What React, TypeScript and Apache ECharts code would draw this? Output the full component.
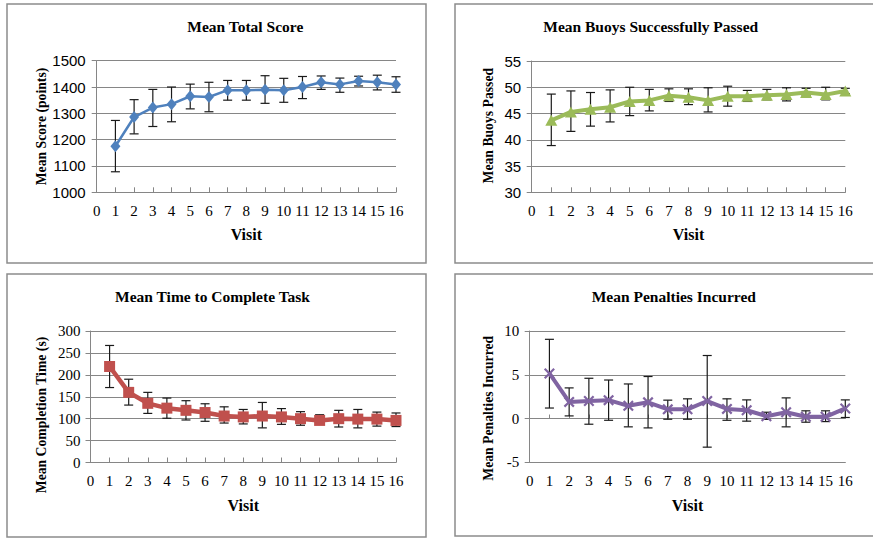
import React, { useEffect, useRef } from "react";
import * as echarts from "echarts";

const visits = [1, 2, 3, 4, 5, 6, 7, 8, 9, 10, 11, 12, 13, 14, 15, 16];

const scoreMean = [1175, 1286, 1322, 1335, 1365, 1362, 1388, 1388, 1390, 1388, 1400, 1418, 1410, 1423, 1418, 1410];
const scoreHigh = [1273, 1352, 1391, 1400, 1411, 1418, 1425, 1425, 1443, 1433, 1440, 1442, 1434, 1441, 1445, 1439];
const scoreLow = [1078, 1222, 1250, 1268, 1317, 1306, 1350, 1350, 1338, 1342, 1356, 1391, 1380, 1404, 1389, 1380];

const buoyMean = [43.7, 45.3, 45.8, 46.2, 47.3, 47.5, 48.4, 48.1, 47.5, 48.3, 48.3, 48.5, 48.6, 49.0, 48.6, 49.3];
const buoyHigh = [48.7, 49.3, 49.0, 49.5, 50.0, 49.6, 49.7, 49.7, 49.9, 50.2, 49.4, 49.6, 49.9, 49.8, 50.0, 49.8];
const buoyLow = [38.9, 41.6, 42.6, 43.4, 44.6, 45.5, 47.3, 46.7, 45.3, 46.4, 47.3, 47.6, 47.4, 48.4, 47.6, 48.8];

const timeMean = [219, 160, 135, 124, 119, 114, 106, 104, 106, 104, 100, 96, 100, 99, 99, 96];
const timeHigh = [267, 190, 160, 147, 141, 134, 127, 121, 137, 123, 116, 109, 119, 121, 115, 113];
const timeLow = [171, 131, 112, 101, 97, 94, 90, 88, 79, 87, 85, 87, 81, 79, 83, 82];

const penMean = [5.15, 1.9, 2.0, 2.1, 1.45, 1.85, 1.05, 1.05, 2.0, 1.1, 0.95, 0.27, 0.72, 0.2, 0.2, 1.15];
const penHigh = [9.05, 3.5, 4.6, 4.4, 3.95, 4.8, 2.1, 2.25, 7.2, 2.25, 2.13, 0.72, 2.36, 0.88, 0.88, 2.13];
const penLow = [1.2, 0.3, -0.65, -0.2, -0.95, -1.07, -0.08, -0.08, -3.27, -0.2, -0.3, -0.1, -0.95, -0.42, -0.35, 0.12];

const titles = ["Mean Total Score", "Mean Buoys Successfully Passed", "Mean Time to Complete Task", "Mean Penalties Incurred"];
const yNames = ["Mean Score (points)", "Mean Buoys Passed", "Mean Completion Time (s)", "Mean Penalties Incurred"];
const xName = "Visit";

const SERIF = "'Liberation Serif', 'Times New Roman', serif";
const SANS = "'Liberation Sans', Arial, sans-serif";
const AXIS = "#868686";

const X_PATH =
  "path://M0,1.4 L1.4,0 L5,3.6 L8.6,0 L10,1.4 L6.4,5 L10,8.6 L8.6,10 L5,6.4 L1.4,10 L0,8.6 L3.6,5 Z";

export default function App() {
  const ref = useRef<HTMLDivElement>(null);
  useEffect(() => {
    if (!ref.current) return;
    const chart = echarts.init(ref.current, undefined, { renderer: "svg" });

    const panels = [
      {
        grid: { left: 96.7, top: 60.7, width: 299.3, height: 131.6 },
        y: { min: 1000, max: 1500, interval: 100 },
        yFont: SANS, yMargin: 11,
        mean: scoreMean, hi: scoreHigh, lo: scoreLow,
        color: "#4F81BD", width: 2.5, symbol: "diamond", symbolSize: [10, 12],
        title: { x: 245.3, y: 26.7 }, yName: { x: 41.7, y: 126.5 }, xName: { y: 234.3 },
      },
      {
        grid: { left: 531.7, top: 61, width: 313.6, height: 131.3 },
        y: { min: 30, max: 55, interval: 5 },
        yFont: SANS, yMargin: 10.5,
        mean: buoyMean, hi: buoyHigh, lo: buoyLow,
        color: "#9BBB59", width: 4, symbol: "triangle", symbolSize: [12, 11],
        title: { x: 650.7, y: 26.7 }, yName: { x: 488.3, y: 125.7 }, xName: { y: 234 },
      },
      {
        grid: { left: 90.5, top: 331, width: 305.5, height: 131.5 },
        y: { min: 0, max: 300, interval: 50 },
        yFont: SERIF, yMargin: 10,
        mean: timeMean, hi: timeHigh, lo: timeLow,
        color: "#C0504D", width: 4.5, symbol: "rect", symbolSize: 11,
        title: { x: 212.5, y: 296.7 }, yName: { x: 41.7, y: 415 }, xName: { y: 505 },
      },
      {
        grid: { left: 529.7, top: 331, width: 315.6, height: 131.3 },
        y: { min: -5, max: 10, interval: 5 },
        yFont: SERIF, yMargin: 10.5,
        mean: penMean, hi: penHigh, lo: penLow,
        color: "#8064A2", width: 4, symbol: X_PATH, symbolSize: 11,
        title: { x: 673.8, y: 296.7 }, yName: { x: 488.3, y: 408.3 }, xName: { y: 505 },
      },
    ];

    const xAxes: any[] = panels.map((p, i) => ({
      type: "value",
      gridIndex: i,
      min: 0,
      max: 16,
      interval: 1,
      axisLine: { show: true, onZero: false, lineStyle: { color: AXIS, width: 1 } },
      axisTick: { show: i !== 3, inside: true, length: 5, lineStyle: { color: AXIS } },
      axisLabel: { fontFamily: SERIF, fontSize: 15, color: "#000", margin: 11, formatter: (v: number) => String(v) },
      splitLine: { show: false },
    }));
    xAxes.push({
      type: "value",
      gridIndex: 3,
      min: 0,
      max: 16,
      interval: 1,
      position: "bottom",
      axisLine: { show: true, onZero: true, lineStyle: { color: AXIS, width: 1 } },
      axisTick: { show: true, inside: true, length: 4, lineStyle: { color: AXIS } },
      axisLabel: { show: false },
      splitLine: { show: false },
    });

    const yAxes = panels.map((p, i) => ({
      type: "value",
      gridIndex: i,
      min: p.y.min,
      max: p.y.max,
      interval: p.y.interval,
      axisLine: { show: true, onZero: false, lineStyle: { color: AXIS, width: 1 } },
      axisTick: { show: true, length: 5, lineStyle: { color: AXIS } },
      axisLabel: {
        fontFamily: p.yFont, fontSize: 15, color: "#000", margin: p.yMargin,
        formatter: (v: number) => String(v),
      },
      splitLine: { show: true, lineStyle: { color: AXIS, width: 1 } },
    }));

    const series: any[] = [];
    panels.forEach((p, i) => {
      series.push({
        type: "custom",
        xAxisIndex: i,
        yAxisIndex: i,
        z: 2,
        silent: true,
        encode: { x: 0, y: [1, 2] },
        data: visits.map((v, k) => [v, p.lo[k], p.hi[k]]),
        renderItem: (params: any, api: any) => {
          const x = api.value(0);
          const a = api.coord([x, api.value(1)]);
          const b = api.coord([x, api.value(2)]);
          const w = 4.5;
          const st = { stroke: "#1a1a1a", lineWidth: 1.2 };
          return {
            type: "group",
            children: [
              { type: "line", shape: { x1: a[0], y1: a[1], x2: b[0], y2: b[1] }, style: st },
              { type: "line", shape: { x1: a[0] - w, y1: a[1], x2: a[0] + w, y2: a[1] }, style: st },
              { type: "line", shape: { x1: b[0] - w, y1: b[1], x2: b[0] + w, y2: b[1] }, style: st },
            ],
          };
        },
      });
      series.push({
        type: "line",
        xAxisIndex: i,
        yAxisIndex: i,
        z: 3,
        data: visits.map((v, k) => [v, p.mean[k]]),
        symbol: p.symbol,
        symbolSize: p.symbolSize,
        showAllSymbol: true,
        lineStyle: { color: p.color, width: p.width },
        itemStyle: { color: p.color, opacity: 1 },
      });
    });

    const graphic: any[] = [
      { type: "rect", shape: { x: 7, y: 4, width: 419, height: 259 }, style: { fill: "none", stroke: "#8c8c8c", lineWidth: 1.5 } },
      { type: "rect", shape: { x: 455, y: 4, width: 430, height: 259 }, style: { fill: "none", stroke: "#8c8c8c", lineWidth: 1.5 } },
      { type: "rect", shape: { x: 7, y: 274, width: 419, height: 263 }, style: { fill: "none", stroke: "#8c8c8c", lineWidth: 1.5 } },
      { type: "rect", shape: { x: 455, y: 274, width: 430, height: 262 }, style: { fill: "none", stroke: "#8c8c8c", lineWidth: 1.5 } },
    ];
    panels.forEach((p, i) => {
      graphic.push({
        type: "text",
        x: p.title.x,
        y: p.title.y,
        style: {
          text: titles[i], fontFamily: SERIF, fontSize: 15.5, fontWeight: "bold", fill: "#000",
          textAlign: "center", textVerticalAlign: "middle",
        },
      });
      graphic.push({
        type: "text",
        x: p.yName.x,
        y: p.yName.y,
        rotation: Math.PI / 2,
        style: {
          text: yNames[i], fontFamily: SERIF, fontSize: 13.7, fontWeight: "bold", fill: "#000",
          textAlign: "center", textVerticalAlign: "middle",
        },
      });
      graphic.push({
        type: "text",
        x: p.grid.left + p.grid.width / 2,
        y: p.xName.y,
        style: {
          text: xName, fontFamily: SERIF, fontSize: 16, fontWeight: "bold", fill: "#000",
          textAlign: "center", textVerticalAlign: "middle",
        },
      });
    });

    chart.setOption({
      animation: false,
      backgroundColor: "#ffffff",
      grid: panels.map((p) => ({ ...p.grid, containLabel: false })),
      xAxis: xAxes,
      yAxis: yAxes,
      series,
      graphic,
    });
    return () => chart.dispose();
  }, []);
  return (
    <div
      ref={ref}
      style={{ position: "fixed", left: 0, top: 0, width: 873, height: 539, background: "#fff" }}
    />
  );
}
